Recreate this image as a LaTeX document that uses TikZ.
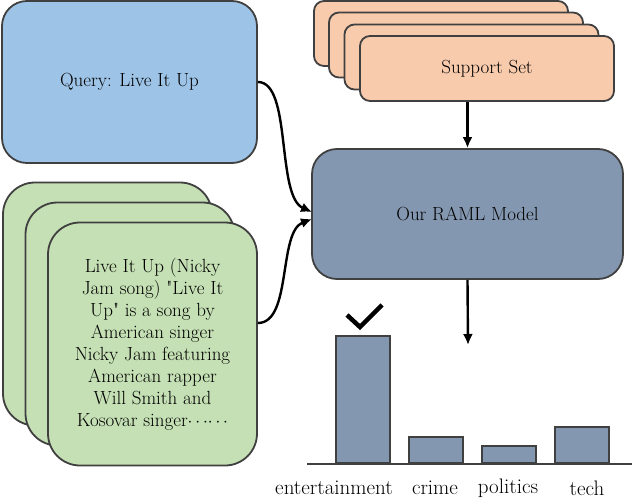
\documentclass[tikz,border=0pt]{standalone}
\usetikzlibrary{arrows.meta}
\definecolor{qblue}{HTML}{9DC3E6}
\definecolor{sorange}{HTML}{F8CBAD}
\definecolor{mslate}{HTML}{8497B0}
\definecolor{dgreen}{HTML}{C5E0B4}
\definecolor{bordergray}{HTML}{404040}
\begin{document}
\begin{tikzpicture}[x=1pt,y=-1pt,
  box/.style={draw=bordergray,line width=1.8pt,rectangle,inner sep=0pt,font=\fontsize{19}{22}\selectfont},
  qbox/.style={box,fill=qblue,rounded corners=25pt,minimum width=255pt,minimum height=162pt},
  sbox/.style={box,fill=sorange,rounded corners=10pt,minimum width=254pt,minimum height=65pt},
  mbox/.style={box,fill=mslate,rounded corners=25pt,minimum width=311pt,minimum height=130pt},
  gbox/.style={box,fill=dgreen,rounded corners=32pt,minimum width=209pt,minimum height=243pt,align=center},
  bar/.style={draw=bordergray,line width=1.8pt,fill=mslate,rectangle,inner sep=0pt,minimum width=54pt,anchor=south},
  lab/.style={font=\fontsize{21}{24}\selectfont,inner sep=0pt},
  arr/.style={line width=2.4pt,-{Latex[length=11pt,width=10pt]}}]
\useasboundingbox (0,0) rectangle (632,500);
% query
\node[qbox] (query) at (129.5,82) {Query: Live It Up};
% support set stack
\node[sbox] (sup1) at (441,33.5) {};
\node[sbox] (sup2) at (456,45) {};
\node[sbox] (sup3) at (471.5,57) {};
\node[sbox] (sup4) at (487,68.5) {Support Set};
% model
\node[mbox] (model) at (467.5,214) {Our RAML Model};
% green stack
\node[gbox] (doc1) at (107.5,304) {};
\node[gbox] (doc2) at (130,324) {};
\node[gbox] (doc3) at (152.5,344) {Live It Up (Nicky\\Jam song) \textquotedbl Live It\\Up\textquotedbl\ is a song by\\American singer\\Nicky Jam featuring\\American rapper\\Will Smith and\\Kosovar singer$\cdots\!\cdots$};
% arrows
\draw[arr] (model.north |- sup4.south) -- (model.north);
\coordinate (qin) at (312,212);
\coordinate (gin) at (312,219);
\draw[arr] (query.east) .. controls (292,82) and (276,196) .. (qin);
\draw[arr] (doc3.east |- 0,323) .. controls (292,323) and (278,232) .. (gin);
\coordinate (chartin) at (468,345);
\draw[arr] (model.south) -- (chartin);
% chart
\coordinate (axL) at (307,464);
\coordinate (axR) at (632,464);
\node[bar,minimum height=127pt] (b1) at (363,464) {};
\node[bar,minimum height=26pt] (b2) at (436,464) {};
\node[bar,minimum height=17pt] (b3) at (509,464) {};
\node[bar,minimum height=36pt] (b4) at (582,464) {};
\draw[bordergray,line width=1.8pt] (axL) -- (axR);
\node[lab] (l1) at (334,488) {entertainment};
\node[lab] (l2) at (435,488) {crime};
\node[lab] (l3) at (508,488) {politics};
\node[lab] (l4) at (587,488) {tech};
\draw[line width=4.5pt] (347,315) -- (360,327) -- (382,305);
\end{tikzpicture}
\end{document}
